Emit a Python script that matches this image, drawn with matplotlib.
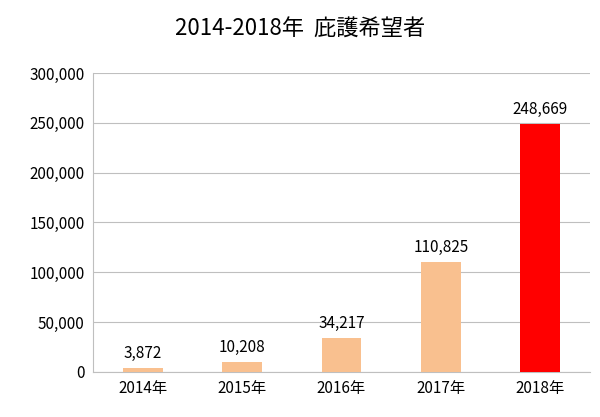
import matplotlib
matplotlib.use("Agg")
import matplotlib.pyplot as plt

plt.rcParams['font.family'] = ['Noto Sans CJK JP', 'DejaVu Sans']

# data
years = ["2014年", "2015年", "2016年", "2017年", "2018年"]
applicants = [3872, 10208, 34217, 110825, 248669]
bar_colors = ["#F9C08F", "#F9C08F", "#F9C08F", "#F9C08F", "#FF0000"]

fig = plt.figure(figsize=(6, 4.17), dpi=100)
ax = fig.add_axes([0.155, 0.108, 0.828, 0.717])

x = range(len(years))
ax.bar(x, applicants, width=0.4, color=bar_colors, zorder=3)
for i, v in zip(x, applicants):
    ax.text(i, v + 6000, f"{v:,}", ha="center", va="bottom", fontsize=11)

ax.set_xlim(-0.5, len(years) - 0.5)
ax.set_ylim(0, 300000)
ax.set_yticks(range(0, 300001, 50000))
ax.set_yticklabels([f"{t:,}" for t in range(0, 300001, 50000)], fontsize=11)
ax.set_xticks(list(x))
ax.set_xticklabels(years, fontsize=11)
ax.tick_params(length=0, pad=6)
ax.grid(axis="y", color="#BFBFBF", linewidth=0.8, zorder=0)
for s in ["top", "right"]:
    ax.spines[s].set_visible(False)
ax.spines["left"].set_color("#BFBFBF")
ax.spines["bottom"].set_color("#BFBFBF")

fig.text(0.5, 0.93, "2014-2018年  庇護希望者", ha="center", va="center", fontsize=16)

fig.savefig("out.png", dpi=100)
